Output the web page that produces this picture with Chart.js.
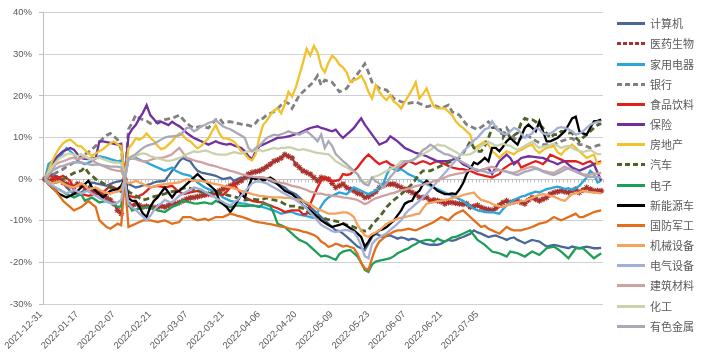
<!DOCTYPE html>
<html>
<head>
<meta charset="utf-8">
<script src="https://cdn.jsdelivr.net/npm/chart.js@4.4.1/dist/chart.umd.min.js"></script>
<style>
  html, body { margin: 0; padding: 0; background: #fff; }
  #wrap { width: 709px; height: 363px; }
</style>
</head>
<body>
<div id="wrap"><canvas id="chart" width="709" height="363"></canvas></div>
<script>
// trading days, 2021-12-31 .. 2022-08-19
const dates = [
  "2021-12-31",
  "2022-01-04","2022-01-05","2022-01-06","2022-01-07","2022-01-10","2022-01-11","2022-01-12","2022-01-13","2022-01-14",
  "2022-01-17","2022-01-18","2022-01-19","2022-01-20","2022-01-21","2022-01-24","2022-01-25","2022-01-26","2022-01-27","2022-01-28",
  "2022-02-07","2022-02-08","2022-02-09","2022-02-10","2022-02-11","2022-02-14","2022-02-15","2022-02-16","2022-02-17","2022-02-18",
  "2022-02-21","2022-02-22","2022-02-23","2022-02-24","2022-02-25","2022-02-28","2022-03-01","2022-03-02","2022-03-03","2022-03-04",
  "2022-03-07","2022-03-08","2022-03-09","2022-03-10","2022-03-11","2022-03-14","2022-03-15","2022-03-16","2022-03-17","2022-03-18",
  "2022-03-21","2022-03-22","2022-03-23","2022-03-24","2022-03-25","2022-03-28","2022-03-29","2022-03-30","2022-03-31","2022-04-01",
  "2022-04-06","2022-04-07","2022-04-08","2022-04-11","2022-04-12","2022-04-13","2022-04-14","2022-04-15","2022-04-18","2022-04-19",
  "2022-04-20","2022-04-21","2022-04-22","2022-04-25","2022-04-26","2022-04-27","2022-04-28","2022-04-29","2022-05-05","2022-05-06",
  "2022-05-09","2022-05-10","2022-05-11","2022-05-12","2022-05-13","2022-05-16","2022-05-17","2022-05-18","2022-05-19","2022-05-20",
  "2022-05-23","2022-05-24","2022-05-25","2022-05-26","2022-05-27","2022-05-30","2022-05-31","2022-06-01","2022-06-02","2022-06-06",
  "2022-06-07","2022-06-08","2022-06-09","2022-06-10","2022-06-13","2022-06-14","2022-06-15","2022-06-16","2022-06-17","2022-06-20",
  "2022-06-21","2022-06-22","2022-06-23","2022-06-24","2022-06-27","2022-06-28","2022-06-29","2022-06-30","2022-07-01","2022-07-04",
  "2022-07-05","2022-07-06","2022-07-07","2022-07-08","2022-07-11","2022-07-12","2022-07-13","2022-07-14","2022-07-15","2022-07-18",
  "2022-07-19","2022-07-20","2022-07-21","2022-07-22","2022-07-25","2022-07-26","2022-07-27","2022-07-28","2022-07-29","2022-08-01",
  "2022-08-02","2022-08-03","2022-08-04","2022-08-05","2022-08-08","2022-08-09","2022-08-10","2022-08-11","2022-08-12","2022-08-15",
  "2022-08-16","2022-08-17","2022-08-18","2022-08-19"
];

const tickLabels = [
  "2021-12-31","2022-01-17","2022-02-07","2022-02-21","2022-03-07","2022-03-21","2022-04-06",
  "2022-04-20","2022-05-09","2022-05-23","2022-06-07","2022-06-21","2022-07-05"
];

const yTicks = [-30, -20, -10, 0, 10, 20, 30, 40];

const names = ["计算机","医药生物","家用电器","银行","食品饮料","保险","房地产","汽车",
               "电子","新能源车","国防军工","机械设备","电气设备","建筑材料","化工","有色金属"];

const colors = ["#48689a","#a8322d","#2aa6da","#808080","#e0201b","#7030a0","#f2c12e","#4f6228",
                "#1e9e58","#000000","#e0701e","#f5a25d","#a4afd6","#cfa1a0","#cbd1ab","#a9a9b8"];

// cumulative change, %
const jsj = [
  0, 0.6, 1.2, 0.8, 0.4, -0.8, -2, -2.8, -3.6, -3.4,
  -3.2, -2.6, -2, -0.8, -1, -1.2, -1.4, -1.6, -1.2, -0.8,
  -0.6, -0.4, 0, -1.2, -1.6, -2, -1.8, -1.5, -1.4, -1.2,
  -0.8, -0.6, -0.5, -0.4, 0.8, 2, 3, 4.3, 5.1, 4.6,
  4.3, 3, 2, 1.6, 1.4, 1.2, 1, 0.8, 0.4, 0,
  0.2, 0.4, -0.4, 0, 0.4, 0.2, 0.4, 0.2, 0.4, 0.2,
  0, 0.2, -0.4, -0.8, -1.2, -1.6, -2, -2.8, -3.2, -3.6,
  -4.4, -5.2, -6, -6.7, -7.5, -8.3, -9.1, -9.9, -10.7, -11.5,
  -12.3, -12.5, -13.1, -13.8, -14.6, -15.4, -16.2, -16.6, -17, -15.5,
  -13.9, -13.1, -13.5, -13.9, -13.7, -13.5, -13.9, -14.3, -14, -14.2,
  -14.6, -14.3, -14.5, -15, -15.4, -15.6, -15.8, -15.7, -15.8, -15.5,
  -15, -14.6, -14.8, -14.6, -14.2, -13.9, -13.5, -13.1, -12.3, -12.8,
  -13.1, -13.5, -13.9, -13.7, -13.5, -13.9, -14.2, -14.6, -14.2, -14,
  -14.6, -15, -15.4, -15, -14.6, -14.8, -15, -15.6, -16.2, -16,
  -15.8, -16, -16.2, -16.4, -16.6, -16.2, -16.4, -16.6, -16.4, -16.2,
  -16.4, -16.6, -16.6, -16.5
];
const yysw = [
  0, -0.5, -0.2, 0.3, 0, -0.8, -1.2, -1.5, -1.8, -1.2,
  -1.5, -2, -2.5, -3, -2.8, -3.4, -4, -4.5, -5, -5.9,
  -7.5, -8.3, 0, -6, -6.5, -5.9, -6.3, -6.7, -6.5, -6.7,
  -6.9, -6.7, -6.5, -6.7, -6.3, -5.9, -5.9, -5.6, -5.2, -4.8,
  -4.5, -4.4, -4.2, -4, -3.8, -3.6, -3.6, -3.2, -2.8, -2.4,
  -2, -1.6, -1.2, -0.8, -0.4, 0.4, 1.2, 1.6, 1.8, 2,
  2.4, 3, 3.6, 4.3, 4.6, 5.1, 5.9, 5.5, 5.1, 3.6,
  2.8, 2, 1.6, 1.2, 0.4, -0.4, 0.4, 0.2, 0, -1,
  -2, -1.6, -1.2, -2, -2.4, -2.8, -3.4, -3.6, -4.4, -4.2,
  -3.6, -3, -2, -1.6, -1.2, -1.2, -1.2, -1.6, -2, -2.4,
  -2.8, -3.2, -3.6, -4.4, -4.4, -4.4, -5.2, -5, -5.2, -5.4,
  -5.9, -5.6, -5.6, -5.8, -5.9, -6, -5.9, -6.7, -6.5, -6.3,
  -6.8, -7.1, -7.3, -7.5, -7, -6.3, -5.6, -5.2, -5.6, -5.4,
  -5.2, -5.6, -5.9, -5, -4.4, -4.8, -5.2, -4.8, -4.4, -3.6,
  -3.2, -3, -2.8, -3, -3.2, -2.8, -2.4, -3.2, -2.6, -2,
  -2.4, -2.8, -2.8, -2.8
];
const jydq = [
  0, 3.6, 4.3, 4.7, 5.1, 6.3, 7.5, 6.7, 5.9, 4.3,
  4, 3.6, 4, 4.3, 5, 5.5, 5.3, 5.1, 4.8, 4.6,
  4.3, 4.5, 0, 4.8, 5, 5.1, 4.7, 4.3, 4, 3.6,
  3.2, 2.8, 2.4, 2, 2.4, 2.8, 2, 1.6, 1.2, 1,
  0.8, 0, -0.8, -1.4, -2, -2.4, -2.8, -3.2, -3.6, -4.4,
  -4.8, -5.2, -5.4, -5.6, -5.8, -5.9, -6.1, -6.3, -6.4, -6.5,
  -6.7, -7, -7.3, -7.5, -7.9, -8.3, -8.1, -7.9, -7.9, -8.3,
  -8.5, -8.7, -8.9, -9.1, -9.3, -8, -6.5, -5.2, -4.4, -4,
  -3.6, -3.2, -3.4, -3.6, -2.8, -2, -2.4, -2.8, -3.2, -3.6,
  -3.2, -2.8, -2, -1.2, 1, 2.8, 2.4, 2, 2.4, 1.8,
  1.2, 0.8, 0.4, -0.4, -0.8, -1.2, -1.6, -2, -2.4, -2.8,
  -3.2, -3.6, -4, -4.4, -4.8, -5.2, -5.9, -6.5, -7.1, -7.5,
  -7.7, -7.9, -8, -7.9, -8.1, -8.3, -7.2, -6.3, -5.5, -5,
  -4.6, -4.2, -4, -3.6, -3.3, -3, -3.2, -2.8, -2.4, -2.2,
  -2, -1.8, -2, -2.4, -2.2, -2.6, -2.2, -1.6, -0.6, 0.4,
  2, 1.2, -0.8, -0.4
];
const yh = [
  0, 0.5, 1, 1.5, 2, 2.4, 3, 3.5, 4, 4.5,
  5.5, 6, 6.5, 7.2, 8, 8.8, 9.8, 10.5, 11, 10.3,
  9.5, 7.2, 0, 12, 13.5, 15.4, 14.6, 14.3, 14, 13.4,
  13.6, 13.8, 14, 14.3, 14.5, 14.6, 15, 15.4, 14.4, 13.4,
  12.8, 12.3, 12.5, 12.7, 12.5, 12.3, 13.3, 14.3, 14.6, 13.5,
  13.8, 13.8, 13.6, 13.4, 13.2, 13.1, 12.9, 12.7, 13.5, 14.6,
  14.6, 15.4, 15.8, 16.2, 17, 17.8, 18.6, 18.2, 17, 18.6,
  20.2, 21, 21.8, 22.6, 23.5, 24.9, 22.6, 23.8, 23.5, 23.3,
  22.2, 21, 21.4, 21.8, 23, 24.1, 25.3, 26.5, 27.7, 25.7,
  23.3, 22.5, 21.8, 21.6, 21.4, 20.4, 19.4, 19, 18.6, 18.4,
  18.2, 18.4, 18.6, 18.2, 17.8, 17.4, 17.6, 17.8, 17.4, 17,
  17.4, 17.8, 16.2, 15.8, 15.4, 14.2, 13.1, 12.7, 12.3, 11.9,
  12.5, 13.1, 13.8, 13, 12.3, 11.5, 10.7, 12.3, 11, 9.9,
  9.1, 9.9, 10.7, 10.3, 9.8, 9.2, 8.7, 8.3, 8.3, 8.3,
  8.3, 8.7, 9.1, 9.4, 9.8, 9.8, 9.1, 8.3, 8.3, 7.9,
  7.5, 7.8, 8.1, 8.3
];
const spyl = [
  0, 1.2, 0.6, 0, 0.4, 0.8, 0.2, -0.4, -2.8, -3.2,
  -3.6, -3.8, -4, -3.8, -3.6, -3.4, -3.2, -2.4, -1.6, -2,
  -2.4, -2.2, 0, -4, -4.2, -4.4, -4, -3.6, -2.8, -2,
  -1.8, -1.6, -1.8, -2, -1.8, -1.6, -2.4, -3, -3.6, -3.4,
  -3.2, -3, -2.8, -3, -3.2, -3.4, -3.6, -3.6, -3.6, -3.8,
  -3, -2, -1.2, -2.4, -3.6, -4.2, -4.8, -5.2, -5.4, -5.5,
  -5.6, -6, -6.3, -6.7, -7, -7.4, -7.9, -7.7, -7.5, -7.5,
  -7.5, -8.5, -8.3, -6, -4, -2, -0.4, 0.4, 0, -0.4,
  -0.4, -0.2, 1.2, 1, 1.2, 2, 2.8, 4, 5.1, 5.9,
  5.1, 4.3, 3.6, 4, 4.3, 3.6, 3.2, 2.8, 2.8, 3.5,
  4.3, 4, 3.6, 4, 4.3, 4, 3.6, 4, 4.3, 3.9,
  3.6, 3.2, 2.8, 2.6, 2.4, 2.4, 2.2, 2, 1.6, 1.2,
  1, 0.8, 0.6, 0.4, 0.8, 1.2, 2.4, 3, 3.6, 4,
  4.3, 2.8, 3.2, 3.6, 4, 4.3, 4, 3.6, 4.5, 5.9,
  5.5, 5.1, 4.7, 4.3, 4.3, 4.3, 4.3, 4, 3.6, 4,
  4.3, 3.6, 4, 4.3
];
const bx = [
  0, 2, 3.5, 5.1, 5.9, 6.7, 7.1, 7.5, 7.1, 6,
  5.1, 4.9, 4.8, 5, 5.1, 9.1, 9.1, 8.9, 8.7, 8.5,
  8.3, 8.5, 0, 10.5, 12, 13, 14.6, 16, 17.8, 15.4,
  14.4, 13.4, 13.8, 13.4, 13, 13.8, 13.2, 12.7, 12, 11.1,
  10.5, 9.9, 9.5, 9.1, 8.7, 8.3, 8.7, 9.1, 8.7, 8.5,
  8.3, 8.5, 8.1, 7.8, 7.5, 6.7, 5.5, 4.8, 6.7, 7.9,
  8.3, 8.7, 9.1, 9.5, 9.9, 10, 10.1, 10.3, 10.5, 10.8,
  11.1, 11.5, 11.9, 12.3, 12.5, 12.7, 12.3, 12.1, 11.8, 11.5,
  11.9, 10.8, 9.9, 10.7, 11.5, 12.3, 13.5, 14.6, 13.1, 11.9,
  10.7, 9.5, 8.3, 8.7, 9.1, 10.3, 9.7, 9.1, 8.3, 7.5,
  7.1, 6.7, 6.3, 6.1, 5.8, 5.5, 5.1, 4.7, 4.3, 4.3,
  4.3, 4.4, 4.6, 5.1, 4.4, 3.6, 3.2, 2.8, 2.4, 2,
  2.2, 2.4, 2.6, 1.2, 2.8, 4.3, 5.1, 5.9, 5.1, 3.6,
  4.3, 5.1, 5.3, 5.5, 5.4, 5.3, 5.2, 5.1, 4.7, 4.3,
  4, 3.6, 4, 4.3, 3.5, 2.8, 2.4, 2, 2.4, 2.8,
  3.2, 3.6, 1.6, -0.4
];
const fdc = [
  0, 2, 4.3, 6, 7.5, 8.6, 9.2, 9.5, 8.8, 8,
  7.9, 7, 6.2, 5.5, 6.2, 6.7, 7.2, 8, 8.6, 9.1,
  8.4, 7.9, 0, 7.4, 8.4, 9.8, 9.5, 10, 11, 10,
  9.1, 8, 7.2, 7.5, 8.3, 9.1, 10.2, 11, 10.5, 9.5,
  9.1, 8.2, 7.4, 8, 9, 9.8, 11.5, 13, 11, 9.8,
  9.8, 9.5, 9, 8, 6.7, 6, 5, 4.5, 6, 10,
  13, 14, 15.4, 16.5, 17, 15.8, 18, 21, 19.8, 22,
  25, 28, 31.3, 29.7, 32, 30.5, 27, 25.7, 28, 29.7,
  28.9, 27.5, 26.9, 25.7, 23.3, 23.8, 24.1, 24.9, 23.3, 21,
  19.4, 22.6, 21, 19.8, 19, 20.2, 18.6, 18, 17, 18.6,
  20, 21.5, 23.3, 19.4, 20.5, 21.8, 19.4, 17.5, 17, 17,
  17, 16.2, 15.4, 13.9, 13, 12.3, 11.5, 10.7, 7.5, 7.9,
  8.5, 9.1, 8.3, 6.7, 6, 5.1, 6, 6.7, 6.3, 6,
  6.7, 7, 7.5, 8, 8.3, 7, 6.3, 7, 7.5, 7.7,
  7.9, 6.5, 5.9, 7, 7.5, 8.3, 7.5, 6.7, 5.9, 5.1,
  5.5, 5.9, 3.6, 4
];
const qc = [
  0, -0.5, -1, -0.8, -0.5, 0, 0.5, 1, 1.5, 1.8,
  2, 2.8, 1.5, 0.8, 0, -0.5, -1, -1.5, -2, -2.2,
  -2.5, -3, 0, -3, -3.5, -4, -4.5, -5, -4.8, -4.5,
  -4.2, -4, -3.8, -3.5, -3.2, -3, -2.8, -2.5, -2.2, -2,
  -2.2, -2.5, -2.8, -3, -3.2, -3.5, -3.2, -3, -3.2, -3.5,
  -3.8, -4, -4.2, -4.5, -4.8, -5, -4.9, -4.8, -4.9, -5,
  -4.8, -4.5, -4.8, -5, -5.2, -5.5, -6, -6.5, -6.5, -6.5,
  -6.8, -7, -7.6, -8.3, -8.7, -9.1, -9.3, -9.5, -9.7, -9.9,
  -10.1, -10.3, -10.6, -11, -11.2, -11.5, -11.9, -12.3, -12.5, -12.3,
  -11, -10, -9.1, -8, -6.7, -5.8, -5, -4.3, -3.6, -2.8,
  -2, -1.2, 0, 1.2, 2, 2, 2, 2.4, 2.8, 3.2,
  3.6, 4, 4.3, 4.7, 5.1, 6.3, 7.5, 9.1, 7.5, 6.7,
  6.7, 8, 9.9, 12.3, 12.5, 12.5, 10, 11.5, 9.9, 10.5,
  11.1, 13.5, 14.6, 14.3, 14.3, 13.8, 13, 12.3, 11, 9.9,
  10.7, 10.7, 11.5, 11.5, 11.1, 11.1, 10, 9.1, 10, 10.7,
  11.5, 12.3, 13, 13.4
];
const dz = [
  0, -1.2, -2, -2.3, -2.5, -3, -3.6, -4, -4.4, -4,
  -3.6, -5.2, -4.8, -4.4, -5, -5.6, -5.4, -5.2, -5.6, -5.9,
  -6.7, -6.5, 0, -5.9, -7.5, -7.3, -7.1, -6.9, -6.8, -6.7,
  -7.1, -7.5, -7.7, -7.9, -7.3, -6.7, -6.3, -5.9, -5.2, -5.4,
  -5.6, -5.8, -5.9, -5.7, -5.6, -5.8, -5.9, -5.2, -5.6, -5.9,
  -6.3, -6.7, -6.5, -6.3, -6.4, -6.5, -6.4, -6.3, -6.5, -6.7,
  -5.9, -6.2, -6.5, -8.3, -10.7, -11.1, -11.5, -12.3, -13.1, -13.9,
  -14.6, -15, -15.4, -16.2, -17, -17.8, -18.6, -18.4, -18.6, -19,
  -19.4, -18, -17.4, -17.2, -17, -17.8, -18.6, -20, -21.8, -22.3,
  -20.5, -19.8, -19.6, -19.4, -19.2, -19, -18.5, -17.8, -17.4, -17,
  -16.6, -16, -15.6, -15, -14.8, -14.6, -14.6, -15, -14.3, -14.7,
  -15, -14.5, -14, -13.9, -13.5, -13.1, -12.7, -12.3, -13.5, -14.6,
  -15.2, -15.8, -16.6, -17.4, -17.6, -17.8, -18.2, -18.6, -17.4, -17.6,
  -17.8, -18.2, -18.6, -18, -17.4, -17.8, -18.2, -17.4, -16.6, -16.4,
  -16.2, -16.8, -17.4, -18.2, -19, -17.8, -16.6, -16.6, -16.6, -17.4,
  -18.2, -19, -18.4, -17.8
];
const xnyc = [
  0, -1, -2, -2.8, -3.6, -4, -4.4, -4, -3.6, -2.8,
  -2, -1.2, -0.4, -2, -2.8, -3.6, -4.4, -3.6, -2.8, -2.6,
  -2.4, -1.6, 0, -4.5, -5.2, -5.2, -6.7, -8.3, -9.1, -6.7,
  -5.2, -4.4, -3.2, -2, -3.2, -4.4, -3.2, -2.8, -2, -1.2,
  -0.4, 0.4, 1.2, 0.4, -0.4, -1.2, -2, -2.8, -5.2, -6,
  -6.7, -7.9, -6.7, -5.2, -3.6, -4.4, -2, 0.4, 0, 0.4,
  -0.4, 0, 0.4, -0.2, -1.2, -2, -2.8, -3.2, -3.6, -4.4,
  -5.2, -6.3, -6.9, -7.5, -8.3, -9.1, -9.9, -10.5, -11, -11.5,
  -11.2, -11, -10.7, -11.2, -11.8, -12.3, -13.1, -13.9, -16.2, -15,
  -13.5, -13, -12.3, -12, -11.5, -10.7, -9.9, -8.7, -7.5, -5.9,
  -5.4, -5.2, -3.5, -2.8, -1.2, -0.4, -1.2, -2, -2.8, -3.2,
  -3.6, -3.6, -3.4, -3.6, -2.5, -1, 1.2, 2.5, 4, 3.6,
  4.3, 5.1, 4.3, 7.5, 7.5, 6.7, 7.8, 9.1, 9.9, 9.1,
  8.3, 10.3, 12.3, 13.1, 12.3, 11.5, 13.9, 11.5, 9.1, 9.1,
  9.5, 9.9, 10.7, 11.5, 13, 14.6, 15, 11.5, 11, 10.7,
  12.3, 13.9, 14, 14.3
];
const gfjg = [
  0, -1.2, -2, -2.8, -4, -5.2, -6, -6.7, -7.5, -7.1,
  -6.7, -6, -5.2, -6, -6.7, -9.9, -10.7, -11.5, -11.9, -11.3,
  -10.7, -11.1, 0, -11.5, -11.1, -10.7, -10.3, -9.9, -9.9, -9.9,
  -10.1, -10.3, -10.1, -9.9, -10.3, -10.7, -10.5, -10.3, -9.1, -9.1,
  -9.1, -9.5, -9.9, -9.7, -9.5, -9.9, -9.5, -9.1, -9.1, -9.1,
  -8.7, -8.3, -8.5, -8.8, -9, -9.3, -9.6, -10, -10.2, -10.4,
  -10.5, -10.7, -10.8, -11, -11.2, -11.4, -11.5, -11.8, -12, -12.1,
  -12.3, -12.6, -12.8, -13.1, -13.4, -14, -15, -15.5, -16.3, -16,
  -15.5, -15.8, -16.2, -16, -16.3, -16.6, -18, -20.2, -21.4, -21.8,
  -19, -16.5, -15, -14.3, -13.5, -13.1, -12.6, -12.3, -12.3, -12.1,
  -11.9, -12.1, -12.3, -11.9, -11.5, -11.1, -10.7, -10.3, -9.7, -9.1,
  -9.5, -9.9, -9, -8.3, -7.9, -7.5, -8.3, -9.1, -9.9, -10.7,
  -11.5, -11.2, -11.9, -12.3, -12.7, -13.1, -12.3, -11.5, -12, -12.3,
  -12.3, -12.3, -12, -11.8, -11.5, -11.1, -10.7, -10.5, -10.3, -9.7,
  -9.1, -9.5, -9.9, -9.5, -9.1, -8.7, -8.3, -9.1, -9.1, -8.7,
  -8.3, -7.9, -7.7, -7.5
];
const jxsb = [
  0, -0.5, -1, -0.8, -0.5, -1, -1.5, -1.8, -2, -1.5,
  -1, -1.5, -2.5, -2.2, -2, -2.5, -3, -3.3, -3.5, -3.2,
  -3, -2.5, 0, -1, -0.8, -0.4, -0.8, -1.2, -1.6, -2,
  -1.8, -1.5, -1.3, -1.2, -1.1, -1, -0.9, -0.8, -0.4, 0,
  -0.2, -0.4, -0.4, -0.4, -0.6, -0.8, -1, -1.2, -1.4, -1.6,
  -1.8, -2, -2.2, -2.5, -2.8, -3, -3.3, -3.6, -3.8, -4,
  -4.1, -4.2, -4.3, -4.4, -4.4, -4.4, -4.5, -4.5, -4.6, -4.8,
  -5, -5.2, -5.6, -6, -6.6, -7.2, -7.5, -7.9, -8.3, -8.3,
  -8.3, -8.1, -8, -8, -8.4, -9.1, -11, -12.3, -13.5, -13.9,
  -13.2, -12.8, -12.3, -11.5, -10.7, -10.3, -9.9, -9.5, -9.3, -9.1,
  -8.9, -8.7, -8.4, -8.3, -7, -5.9, -5.7, -5.5, -5.3, -5.2,
  -5, -4.8, -4.5, -4.4, -4.2, -3.8, -3.6, -3.4, -3.2, -4.2,
  -5, -5.2, -5.5, -5.9, -6.3, -6.5, -6.7, -6.3, -6, -5.7,
  -5.5, -5.3, -5.2, -4.8, -4.5, -4.1, -3.8, -3.6, -3.8, -4,
  -4.2, -4.6, -5, -5.2, -4.4, -3.6, -3.4, -3.2, -2.8, -3,
  -3.2, -3.2, -3.3, -3.4
];
const dqsb = [
  0, -1, -1.5, -2, -2.6, -3, -3.4, -3, -2.6, -3,
  -3.5, -3, -2.8, -3.5, -4, -4.5, -5, -5.4, -5.8, -6,
  -5.6, -5, 0, -6, -6.8, -7.4, -8.2, -9, -9.9, -8.8,
  -7.5, -6.5, -5.8, -5, -5.4, -5.6, -4.8, -4, -3.5, -3,
  -2.5, -2, -2.2, -2.5, -3, -3.5, -4, -4.5, -5, -5.5,
  -6, -6.3, -5.6, -5, -4, -3, -2, -1, -0.6, -0.5,
  -0.8, -1, -1.5, -2, -2.5, -3, -3.5, -4, -4.5, -5,
  -5.6, -6.3, -7, -8, -9, -10, -11, -11.5, -12, -12.5,
  -12.7, -12.5, -12.3, -12.2, -12.5, -12.7, -14, -16, -18.5, -19,
  -15.5, -14.6, -14, -13.5, -13, -12.2, -11.5, -10.7, -9.9, -8.5,
  -7.5, -6.8, -6, -5.2, -4.4, -3.6, -2.5, -1.5, -0.5, 0.5,
  1.5, 2.5, 3.5, 4.5, 5.5, 6.5, 7.5, 8.3, 9.3, 10,
  11, 12, 12.3, 13.9, 12.5, 11.5, 11, 10.7, 11.5, 12.3,
  12, 11, 9.9, 10.5, 11, 12.3, 12, 11, 10.7, 11,
  11.5, 12.3, 12.5, 12.3, 12, 11.5, 10.7, 11, 11.5, 12.3,
  13.1, 13.5, 13.8, 13.8
];
const jzcl = [
  0, 1, 2, 3.6, 4, 4.3, 4.6, 5, 5.1, 4.8,
  5.1, 5.3, 5, 4.5, 4, 3.6, 3.2, 2.8, 2.4, 2.2,
  2, 2, 0, 5.1, 5, 4.8, 4.5, 4.3, 4.3, 4.6,
  4.9, 5.1, 5.1, 5.3, 5.6, 6, 6.8, 7.5, 6.3, 5.1,
  4.8, 4.5, 4.3, 4.1, 3.8, 3.5, 3.3, 3.1, 2.8, 2.5,
  2.3, 2, 1.8, 1.5, 1.2, 1, 0.8, 0.6, 0.5, 0.4,
  0.5, 0.2, 0, -0.5, -0.7, -0.9, -1, -1.3, -1.6, -1.8,
  -2, -2.3, -2.6, -3, -3.2, -3.5, -3.5, -3.7, -3.8, -4,
  -4.1, -4.2, -4.4, -4.5, -4.6, -4.8, -5, -5.5, -6, -5.6,
  -5, -4.6, -4.3, -4, -3.8, -3.5, -3.3, -3, -2.7, -2.5,
  -2.3, -2, -1.7, -1.5, -1.3, -1, -0.8, -0.5, -0.2, 0,
  0.4, 0.8, 1, 1.2, 1.4, 1.5, 1.9, 2.2, 2.5, 2.3,
  2, 2.4, 2.8, 3, 2.6, 2.2, 2, 1.8, 1.6, 1.5,
  1.8, 2.2, 2.5, 2.8, 3, 2.7, 2.4, 2, 1.8, 1.6,
  1.5, 2, 2.5, 3, 2.5, 2.2, 2, 1.5, 1.2, 1,
  1.1, 1.3, 1.4, 1.5
];
const hg = [
  0, 1.5, 3, 4, 5, 5.5, 6, 6.2, 5.8, 5.5,
  6, 5.5, 5, 4.8, 5, 5.2, 4.8, 4.5, 4.2, 4,
  4, 3.8, 0, 5, 5.3, 5.6, 6, 6.2, 6, 5.5,
  5.3, 5, 4.8, 4.5, 4.4, 4.5, 4.8, 5.1, 5.5, 6,
  6.3, 6.7, 6.5, 6.7, 6.9, 6.7, 6.3, 6, 5.9, 5.9,
  5.9, 6.2, 6.5, 6.3, 6.1, 6.5, 6.7, 6.7, 6.8, 7,
  6.7, 7, 7.2, 7.5, 7.3, 7.5, 7.5, 7.7, 7.5, 7.2,
  7, 7.2, 7, 6.8, 6.5, 6.3, 6.2, 6.1, 6, 5.2,
  4.3, 3.8, 3.3, 2.8, 2.2, 1.8, 1.2, 0, -1, -0.5,
  0.4, 0.7, 1, 1.5, 2, 2.4, 2.8, 3.4, 4.3, 4.3,
  4.3, 4.6, 5, 5.5, 6, 6.5, 7, 7.6, 8.3, 8.1,
  8, 7.5, 7, 6.5, 6, 5.9, 5.9, 6, 6.5, 7.2,
  8, 8.5, 9, 8.5, 8, 8.2, 8.5, 8.2, 8, 7.5,
  7, 7.5, 8, 8.5, 9, 8.2, 7.5, 7.8, 8, 8.2,
  8.5, 8, 7.5, 7.8, 8, 7.5, 7, 6.8, 6.5, 6.8,
  7, 6.5, 6, 6
];
const ysjs = [
  0, 1, 2, 2.5, 3, 3.2, 3.5, 3.8, 4, 4,
  4, 3.8, 3.6, 3.4, 3.5, 3.5, 3.3, 3.2, 3, 3,
  3, 2.8, 0, 5, 5.5, 6, 6.8, 7.5, 8, 8.3,
  8.5, 9, 9.5, 10, 10.2, 10.3, 10.4, 10.5, 11.3, 12.3,
  12.3, 11.5, 11.9, 12.7, 13, 13.5, 13.8, 14.2, 13.4, 12.7,
  12.3, 12, 11.5, 11, 10.5, 9.9, 7.5, 6.7, 7.5, 8,
  9, 9.9, 10.3, 10.7, 10.5, 10.8, 11.1, 11.5, 11.2, 11,
  10.7, 11.2, 11.5, 10.8, 10, 9.1, 10.7, 7.5, 9.1, 8,
  6, 5.2, 4.3, 3.6, 2.8, 2, 1.2, -0.4, -1.2, -1.5,
  0.4, -0.5, -1, -2, -1, 0.5, 1.5, 2.8, 3.5, 4.3,
  4.3, 4.5, 5, 6, 7, 7.5, 8.3, 7.8, 7, 6.5,
  6, 5.9, 5.5, 5, 4.5, 4, 3.6, 3, 2.5, 2.2,
  2, 1.8, 1.5, 1.6, 2, 2.2, 2, 1.8, 1.5, 1.2,
  1, 1.4, 1.8, 2, 2.3, 2.5, 2.2, 1.8, 1.5, 1.2,
  1, 1.4, 1.8, 2.3, 2.6, 2.2, 1.8, 1.4, 1, 0.6,
  0.5, 0.6, 0.5, 0.4
];

const series = [jsj, yysw, jydq, yh, spyl, bx, fdc, qc, dz, xnyc, gfjg, jxsb, dqsb, jzcl, hg, ysjs];
series.forEach((s, i) => {
  if (s.length !== dates.length) throw new Error(names[i] + " has " + s.length + " points");
});

const dashed = { "银行": [6, 3.5], "汽车": [6, 3.5] };

const datasets = series.map((s, i) => {
  const name = names[i];
  const ds = {
    label: name,
    data: s,
    borderColor: colors[i],
    backgroundColor: colors[i],
    borderWidth: dashed[name] ? 2.8 : 2.3,
    borderDash: dashed[name] || [],
    pointRadius: 0,
    tension: 0,
    fill: false,
    order: series.length - i
  };
  if (name === "医药生物") {
    ds.borderWidth = 2;
    ds.pointStyle = "star";
    ds.pointRadius = 3;
    ds.pointBorderWidth = 1.2;
    ds.pointBorderColor = colors[i];
  }
  return ds;
});

// horizontal axis line at 0% with small category ticks
const zeroAxis = {
  id: "zeroAxis",
  beforeDatasetsDraw(chart) {
    const { ctx, chartArea, scales } = chart;
    const y0 = Math.round(scales.y.getPixelForValue(0)) + 0.5;
    ctx.save();
    ctx.strokeStyle = "#bfbfbf";
    ctx.lineWidth = 1;
    ctx.beginPath();
    ctx.moveTo(chartArea.left, y0);
    ctx.lineTo(chartArea.right, y0);
    const n = dates.length;
    const w = (chartArea.right - chartArea.left) / n;
    for (let k = 0; k <= n; k++) {
      const x = Math.round(chartArea.left + k * w) + 0.5;
      ctx.moveTo(x, y0);
      ctx.lineTo(x, y0 + 3);
    }
    ctx.stroke();
    ctx.restore();
  }
};

// legend on the right, one row per series
const legendDash = { "医药生物": [4, 2], "银行": [5, 3], "汽车": [5, 3] };
const sideLegend = {
  id: "sideLegend",
  afterDraw(chart) {
    const { ctx } = chart;
    ctx.save();
    ctx.font = '11px "Noto Sans CJK SC"';
    ctx.textBaseline = "middle";
    ctx.fillStyle = "#595959";
    chart.data.datasets.forEach((ds, i) => {
      const y = Math.round(23.3 + i * 20.16) + 0.5;
      ctx.strokeStyle = ds.borderColor;
      ctx.lineWidth = 3;
      ctx.setLineDash(legendDash[ds.label] || []);
      ctx.beginPath();
      ctx.moveTo(617, y);
      ctx.lineTo(645, y);
      ctx.stroke();
      ctx.setLineDash([]);
      ctx.fillText(ds.label, 650, y);
    });
    ctx.restore();
  }
};

new Chart(document.getElementById("chart"), {
  type: "line",
  data: { labels: dates, datasets: datasets },
  options: {
    responsive: false,
    animation: false,
    layout: { padding: { left: 0, top: 9, right: 106, bottom: 0 } },
    plugins: {
      legend: { display: false },
      tooltip: { enabled: false }
    },
    scales: {
      x: {
        type: "category",
        offset: true,
        grid: { display: false, drawTicks: false },
        border: { display: false },
        ticks: {
          autoSkip: false,
          minRotation: 45,
          maxRotation: 45,
          padding: 5,
          labelOffset: -4,
          color: "#595959",
          font: { family: "Liberation Sans", size: 9.5 },
          callback: (v, idx) => (tickLabels.includes(dates[idx]) ? dates[idx] : "")
        },
        afterFit: (scale) => { scale.height = 59; }
      },
      y: {
        min: -30,
        max: 40,
        afterBuildTicks: (scale) => { scale.ticks = yTicks.map(v => ({ value: v })); },
        grid: { color: "#d0d0d0", tickLength: 4, tickColor: "#bfbfbf" },
        border: { color: "#bfbfbf" },
        ticks: {
          padding: 7,
          color: "#595959",
          font: { family: "Liberation Sans", size: 9.5 },
          callback: (v) => v + "%"
        },
        afterFit: (scale) => { scale.width = 43; }
      }
    }
  },
  plugins: [zeroAxis, sideLegend]
});
</script>
</body>
</html>
